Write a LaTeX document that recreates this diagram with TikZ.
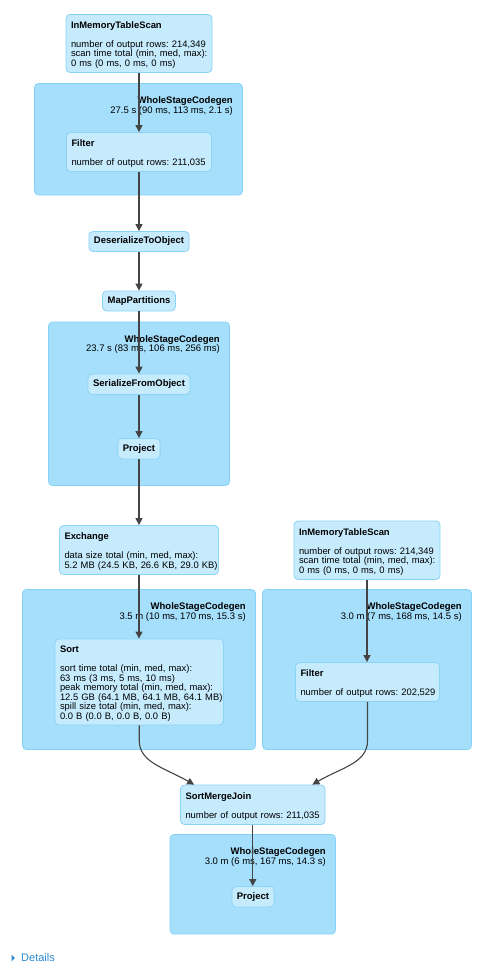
\documentclass[tikz,border=0pt]{standalone}
\usepackage{fontspec}
\setmainfont{Liberation Sans}
\usetikzlibrary{arrows.meta}
\definecolor{clfill}{HTML}{A6DFFB}
\definecolor{clstroke}{HTML}{86D2F6}
\definecolor{ndfill}{HTML}{C6EBFD}
\definecolor{ndstroke}{HTML}{8AD3F5}
\definecolor{edgec}{HTML}{444444}
\definecolor{linkc}{HTML}{2C8BD0}
\newcommand\rowtxt[1]{\mbox{#1}}
\newcommand\nodetitle[1]{\mbox{\rule{0pt}{9.9pt}\textbf{#1}}}
\frenchspacing
\begin{document}
\begin{tikzpicture}[x=1pt,y=-1pt,
  cluster/.style={draw=clstroke, fill=clfill, rounded corners=4pt, line width=0.8pt, inner sep=0pt},
  clabel/.style={anchor=north east, align=right, inner sep=0pt, font=\frenchspacing\fontsize{9.5}{9.7}\selectfont},
  nd/.style={draw=ndstroke, fill=ndfill, rounded corners=4pt, line width=0.8pt, inner xsep=5pt, inner ysep=0pt, font=\frenchspacing\fontsize{9.4}{9.5}\selectfont},
  mnd/.style={nd, align=left},
  snd/.style={nd, font=\bfseries\fontsize{9.5}{9.5}\selectfont},
  edge/.style={draw=edgec, line width=1.1pt, -{Triangle[length=7pt,width=7pt]}}
]
\fill[white] (0,0) rectangle (493,976);
\useasboundingbox (0,0) rectangle (493,976);

% clusters
\node[cluster, minimum width=208pt, minimum height=111.5pt] (wsc1) at (138.5,139.25) {};
\node[cluster, minimum width=181pt, minimum height=163.5pt] (wsc2) at (139,403.75) {};
\node[cluster, minimum width=233pt, minimum height=160pt] (wsc3) at (139,669.5) {};
\node[cluster, minimum width=209pt, minimum height=160pt] (wsc4) at (367,669.5) {};
\node[cluster, minimum width=165.5pt, minimum height=99.5pt] (wsc5) at (252.75,884.25) {};

\node[clabel] (l1) at ([xshift=-10pt,yshift=-13.5pt]wsc1.north east) {\textbf{WholeStageCodegen}\\27.5 s (90 ms, 113 ms, 2.1 s)};
\node[clabel] (l2) at ([xshift=-10pt,yshift=-13.5pt]wsc2.north east) {\textbf{WholeStageCodegen}\\23.7 s (83 ms, 106 ms, 256 ms)};
\node[clabel] (l3) at ([xshift=-10pt,yshift=-13.5pt]wsc3.north east) {\textbf{WholeStageCodegen}\\3.5 m (10 ms, 170 ms, 15.3 s)};
\node[clabel] (l4) at ([xshift=-10pt,yshift=-13.5pt]wsc4.north east) {\textbf{WholeStageCodegen}\\3.0 m (7 ms, 168 ms, 14.5 s)};
\node[clabel] (l5) at ([xshift=-10pt,yshift=-13.5pt]wsc5.north east) {\textbf{WholeStageCodegen}\\3.0 m (6 ms, 167 ms, 14.3 s)};

% nodes
\node[mnd, text width=136pt, minimum height=58pt] (imts1) at (139,43.5)
  {\nodetitle{InMemoryTableScan}\\[9.5pt]\rowtxt{number of output rows: 214,349}\\\rowtxt{scan time total (min, med, max):}\\\rowtxt{0 ms (0 ms, 0 ms, 0 ms)}};
\node[mnd, text width=135pt, minimum height=39pt] (filter1) at (139,152)
  {\nodetitle{Filter}\\[9.5pt]\rowtxt{number of output rows: 211,035}};
\node[snd, minimum width=99pt, minimum height=20pt] (deser) at (139,241.5) {DeserializeToObject};
\node[snd, minimum width=71pt, minimum height=20pt] (mapp) at (139,301) {MapPartitions};
\node[snd, minimum width=100pt, minimum height=20.5pt] (ser) at (139,384.25) {SerializeFromObject};
\node[snd, minimum width=41pt, minimum height=20.5pt] (proj1) at (139,448.75) {Project};
\node[mnd, text width=149pt, minimum height=49pt] (exch) at (139,550)
  {\nodetitle{Exchange}\\[9.5pt]\rowtxt{data size total (min, med, max):}\\\rowtxt{5.2 MB (24.5 KB, 26.6 KB, 29.0 KB)}};
\node[mnd, text width=158.5pt, minimum height=86pt] (sort) at (139.25,682)
  {\nodetitle{Sort}\\[9.5pt]\rowtxt{sort time total (min, med, max):}\\\rowtxt{63 ms (3 ms, 5 ms, 10 ms)}\\\rowtxt{peak memory total (min, med, max):}\\\rowtxt{12.5 GB (64.1 MB, 64.1 MB, 64.1 MB)}\\\rowtxt{spill size total (min, med, max):}\\\rowtxt{0.0 B (0.0 B, 0.0 B, 0.0 B)}};
\node[mnd, text width=136pt, minimum height=58.5pt] (imts2) at (367,550.25)
  {\nodetitle{InMemoryTableScan}\\[9.5pt]\rowtxt{number of output rows: 214,349}\\\rowtxt{scan time total (min, med, max):}\\\rowtxt{0 ms (0 ms, 0 ms, 0 ms)}};
\node[mnd, text width=134pt, minimum height=39pt] (filter2) at (367.5,682)
  {\nodetitle{Filter}\\[9.5pt]\rowtxt{number of output rows: 202,529}};
\node[mnd, text width=134.5pt, minimum height=39.5pt] (smj) at (252.75,804.75)
  {\nodetitle{SortMergeJoin}\\[9.5pt]\rowtxt{number of output rows: 211,035}};
\node[snd, minimum width=41pt, minimum height=20.5pt] (proj2) at (253,896.75) {Project};

% edges
\draw[edge] (imts1.south) -- (imts1.south |- filter1.north);
\draw[edge] (filter1.south) -- (filter1.south |- deser.north);
\draw[edge] (deser.south) -- (deser.south |- mapp.north);
\draw[edge] (mapp.south) -- (mapp.south |- ser.north);
\draw[edge] (ser.south) -- (ser.south |- proj1.north);
\draw[edge] (proj1.south) -- (proj1.south |- exch.north);
\draw[edge] (exch.south) -- (exch.south |- sort.north);
\draw[edge] (imts2.south) -- (imts2.south |- filter2.north);
\draw[edge] (sort.south) -- ++(0,15) .. controls +(0,22) and +(-30,-17) .. ([xshift=14pt]smj.north west);
\draw[edge] (filter2.south) -- ++(0,39) .. controls +(0,22) and +(29,-17) .. ([xshift=-13pt]smj.north east);
\draw[edge] (smj.south) -- (smj.south |- proj2.north);

% details link
\node[font=\fontsize{11}{13}\selectfont, text=linkc, anchor=west, inner sep=0pt] (details) at (21,958) {Details};
\fill[linkc] (11.5,954.5) -- (14.8,958) -- (11.5,961.5) -- cycle;
\end{tikzpicture}
\end{document}
